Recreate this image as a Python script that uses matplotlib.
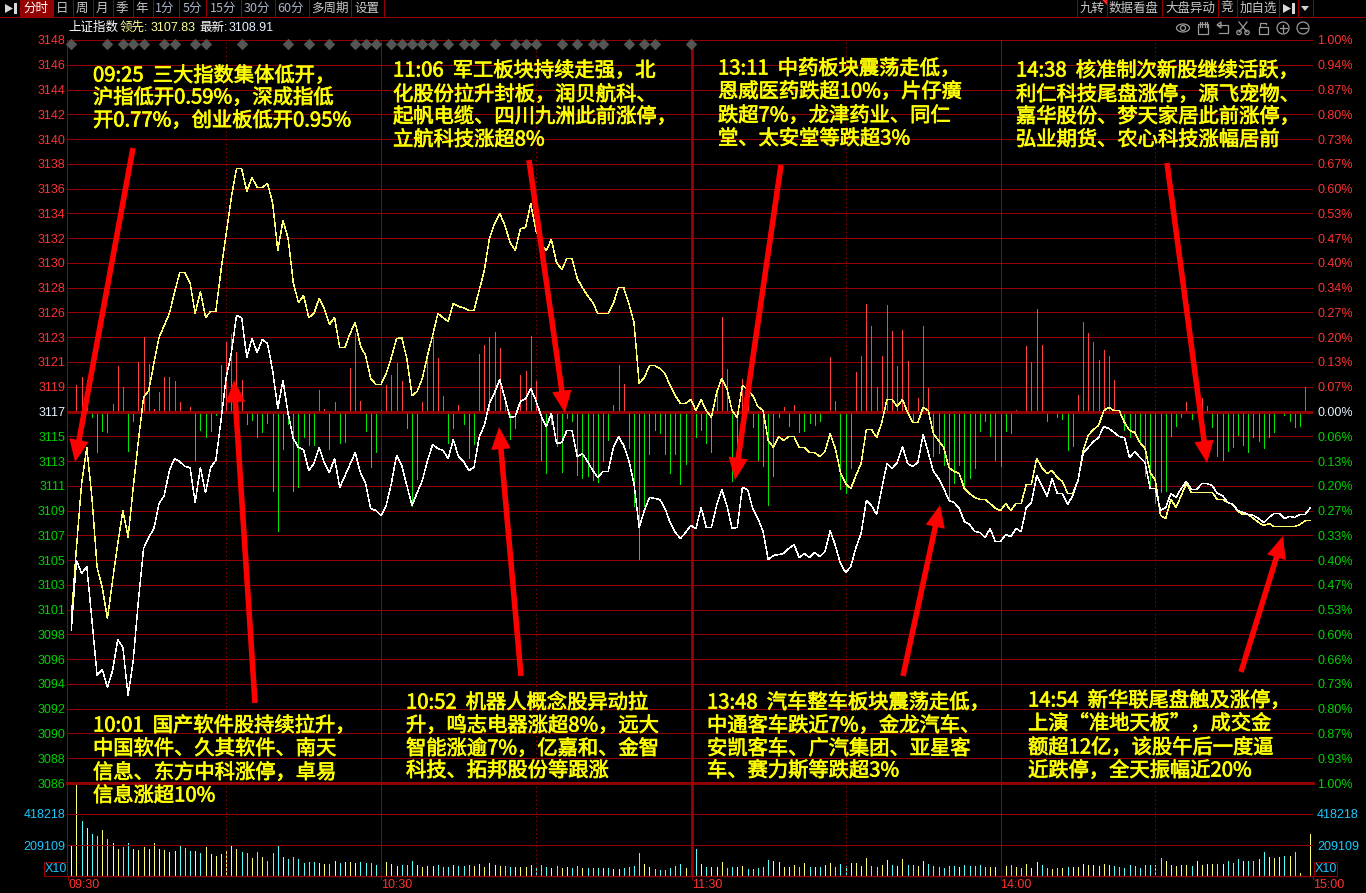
import numpy as np
import matplotlib
matplotlib.use('Agg')
import matplotlib.pyplot as plt
import matplotlib.patheffects as pe
from matplotlib.patches import Polygon, Circle, Ellipse, Rectangle

plt.rcParams['font.family'] = ['Noto Sans CJK SC', 'DejaVu Sans']

# price per minute, 09:30 -> 15:00
white_price = [
    3098.63,3104.50,3103.41,3104.00,3099.50,3094.85,3095.36,3093.85,3095.27,3097.87,
    3097.20,3093.17,3096.11,3101.14,3105.51,3106.43,3107.18,3109.28,3109.95,3112.05,
    3113.06,3112.80,3112.40,3112.30,3109.37,3112.30,3110.20,3112.30,3112.89,3116.24,
    3119.85,3121.90,3125.05,3124.89,3121.53,3123.12,3121.95,3123.04,3122.70,3120.44,
    3117.25,3119.60,3116.83,3114.73,3113.98,3113.81,3112.05,3112.64,3113.98,3112.72,
    3111.88,3113.06,3110.62,3111.60,3112.60,3113.56,3111.88,3110.96,3108.86,3108.69,
    3108.28,3109.11,3110.96,3113.31,3112.47,3110.79,3109.11,3110.20,3111.21,3112.89,
    3114.23,3113.90,3113.73,3113.06,3114.65,3113.22,3112.81,3112.05,3112.30,3114.82,
    3115.83,3117.67,3118.59,3119.68,3118.09,3116.50,3116.58,3117.84,3118.09,3118.93,
    3117.92,3116.66,3115.74,3116.83,3114.32,3114.40,3115.41,3115.41,3113.22,3113.48,
    3112.81,3112.05,3111.46,3111.97,3111.97,3113.98,3114.90,3114.15,3112.89,3110.96,
    3107.27,3108.69,3109.79,3109.70,3109.62,3108.86,3107.69,3106.85,3106.35,3106.85,
    3107.44,3107.18,3108.95,3107.27,3107.27,3109.11,3110.46,3109.11,3107.18,3107.27,
    3110.62,3110.46,3108.86,3108.02,3106.93,3104.58,3104.92,3105.00,3105.09,3105.51,
    3105.84,3104.75,3105.09,3104.75,3105.17,3104.84,3105.26,3107.02,3105.76,3104.25,
    3103.49,3104.00,3105.59,3106.77,3109.53,3109.11,3108.36,3110.54,3112.64,3112.22,
    3112.72,3114.06,3112.64,3112.39,3112.72,3115.07,3113.56,3111.97,3111.38,3110.54,
    3109.53,3109.37,3108.86,3107.77,3107.52,3106.93,3106.85,3106.43,3107.18,3106.09,
    3106.09,3106.68,3106.51,3107.18,3106.93,3108.95,3109.37,3111.63,3110.79,3109.87,
    3111.38,3110.12,3110.12,3109.20,3109.95,3111.21,3113.48,3113.98,3114.48,3114.82,
    3115.74,3115.57,3115.24,3114.90,3114.82,3113.14,3113.64,3113.14,3112.72,3110.54,
    3110.54,3108.69,3108.95,3110.12,3109.79,3110.54,3111.13,3110.46,3110.46,3110.96,
    3110.96,3110.79,3110.12,3109.95,3109.37,3109.20,3108.69,3108.53,3108.36,3108.28,
    3108.02,3107.69,3108.11,3108.44,3108.44,3108.02,3108.19,3108.11,3108.36,3108.36,3108.91]

yellow_price = [
    3099.63,3105.59,3110.96,3113.98,3109.79,3103.91,3102.24,3099.63,3102.82,3105.93,
    3108.69,3106.43,3110.62,3114.57,3118.17,3118.76,3121.03,3123.21,3124.21,3125.22,
    3126.98,3128.66,3128.66,3127.82,3125.22,3127.07,3124.89,3125.39,3125.39,3128.83,
    3131.93,3134.95,3137.39,3137.39,3135.46,3136.63,3135.79,3135.79,3136.13,3134.53,
    3130.51,3133.02,3131.51,3127.82,3126.14,3126.73,3124.89,3125.22,3126.48,3125.64,
    3124.30,3124.89,3122.37,3122.37,3123.54,3124.47,3122.54,3121.70,3119.77,3119.27,
    3119.27,3120.19,3121.53,3123.12,3123.21,3121.45,3118.34,3118.68,3119.77,3121.70,
    3123.38,3125.22,3124.89,3124.55,3126.06,3125.81,3125.72,3125.47,3125.47,3127.15,
    3128.83,3131.51,3132.77,3133.61,3132.60,3131.18,3130.51,3132.35,3132.44,3134.45,
    3132.18,3131.09,3130.51,3131.43,3129.50,3128.91,3129.84,3129.84,3128.16,3127.40,
    3126.73,3126.14,3125.22,3125.22,3125.22,3126.06,3127.40,3127.40,3126.06,3124.47,
    3119.35,3119.85,3120.86,3120.86,3120.61,3120.19,3119.18,3118.34,3117.67,3117.67,
    3118.01,3117.08,3118.01,3117.08,3116.50,3118.59,3119.77,3118.93,3117.08,3116.50,
    3119.18,3118.85,3118.34,3117.42,3117.08,3114.57,3113.98,3114.90,3114.57,3114.90,
    3114.90,3113.98,3113.98,3113.56,3113.56,3113.22,3113.64,3115.15,3113.90,3111.88,
    3110.96,3110.54,3111.63,3112.64,3115.49,3115.49,3114.82,3116.08,3118.01,3118.01,
    3117.42,3118.01,3116.92,3116.08,3116.08,3117.34,3117.08,3115.15,3114.57,3113.98,
    3112.30,3111.97,3111.80,3110.54,3110.12,3109.79,3109.62,3109.62,3109.28,3108.86,
    3108.69,3109.28,3108.69,3109.28,3109.28,3110.88,3110.88,3113.06,3112.30,3111.80,
    3112.05,3111.46,3111.13,3110.12,3110.12,3111.21,3113.73,3114.99,3115.49,3115.83,
    3117.08,3117.34,3117.08,3117.08,3116.08,3115.41,3115.24,3114.40,3113.90,3111.88,
    3111.21,3108.28,3108.02,3109.62,3108.95,3109.95,3110.96,3110.20,3110.20,3110.20,
    3110.20,3110.20,3109.62,3109.62,3109.37,3109.20,3108.61,3108.36,3108.36,3108.02,
    3107.69,3107.44,3107.60,3107.35,3107.35,3107.35,3107.35,3107.35,3107.52,3107.83,3107.83]

# red / green strength bars
strength = [
    0,27,35,32,-5,-40,-19,-20,8,46,
    25,-39,-9,50,75,48,3,20,35,35,
    31,10,1,5,-48,-18,-25,-19,-3,47,
    70,78,60,32,-12,-8,-25,-20,-11,-79,
    -119,-37,-12,-79,-75,-25,-33,-33,22,3,
    -37,10,-31,-30,44,79,11,-19,-55,-40,
    2,27,37,49,31,-16,-94,-67,10,54,
    76,54,16,-31,-16,7,-12,-46,-32,58,
    67,75,80,64,8,-27,-16,37,41,76,
    31,-48,-61,-12,-34,-60,-6,-9,-63,-66,
    -64,-68,-70,-49,-28,7,47,28,-36,-94,
    -147,-94,-42,-18,-21,-42,-61,-42,-72,-52,
    0,-25,-18,-31,-40,21,95,43,-69,-40,
    33,40,-15,-48,-54,-93,-64,-5,5,-14,
    7,-20,-19,-11,-13,-9,1,55,11,-77,
    -81,-56,40,56,108,86,25,56,107,81,
    46,82,51,-10,14,86,24,-44,-41,-53,
    -89,-71,-53,-77,-66,-56,-19,-9,-24,-48,
    -54,-19,-21,2,-1,66,50,103,67,-9,
    -1,-5,-7,-38,-34,17,90,79,70,52,
    62,56,32,0,-18,-25,-19,-29,-64,-76,
    -91,-80,-79,-24,-14,-5,10,-7,0,14,
    6,-15,-44,-48,-39,-35,-23,-33,-40,-25,
    -29,-36,-25,-20,-1,-3,-9,-15,-14,25,0]

# volume read as multiples of vol_unit
vol_unit = 209109 / 31
vol_read = [
    31,92,55,48,42,40,46,37,33,27,
    29,33,27,26,29,27,33,27,26,24,
    25,30,28,25,25,23,29,22,20,22,
    25,31,27,24,23,18,24,19,15,23,
    31,19,17,19,17,13,14,14,13,12,
    12,15,13,14,14,13,14,13,13,11,
    11,14,12,10,11,11,15,11,9,10,
    10,11,9,9,11,10,10,11,10,12,
    9,13,11,10,10,9,9,9,9,11,
    8,11,9,8,10,8,9,8,10,8,
    8,8,8,8,8,7,7,8,9,10,
    23,12,9,7,6,6,8,10,12,8,
    10,27,12,9,9,9,14,8,9,9,
    10,7,7,8,9,16,15,14,9,9,
    11,9,13,9,9,9,11,13,9,12,
    10,13,13,10,18,10,9,11,16,11,
    10,17,11,11,10,15,12,10,9,8,
    10,10,9,11,10,10,11,9,9,9,
    9,10,11,9,8,12,8,14,11,8,
    7,8,8,9,9,9,12,11,11,10,
    12,11,10,9,8,11,10,8,11,11,
    11,18,15,11,10,11,11,10,15,11,
    12,12,12,12,15,13,17,15,15,15,
    17,24,19,18,19,20,20,24,3,0,42]
vol_color = ('wycyccycyy' 'ccyyyyyyyy' 'ycccycyyy' 'y' 'yyyccycycc' 'cyccccccyy'
             'cycyyycccc' 'cyyyccc' 'yyy' 'yccc' 'yccc' 'yy' 'yyyyccyyyy' 'cccycyyccy'
             'cccycyyccc' 'cyycccccc' 'y' 'ycycyyyccy' 'ycccccyyyy' 'ycycycyycc'
             'cyyyyccyyc' 'yycc' 'yycccc' 'ccycccccyy' 'cycycyyycc' 'ycycyyyyyy'
             'yyccccccc' 'c' 'ccyyyyycwy' 'yycyccc' 'ycc' 'ycyyycycycy')

# event markers on top of the chart
marker_minutes = [0,7,10,12,14,18,20,24,26,33,42,46,50,55,57,59,62,64,66,68,70,73,
                  76,78,82,86,88,90,95,98,101,103,108,111,113,120]

center = 3117
left_up = ['3119','3121','3123','3126','3128','3130','3132','3134','3136','3138','3140','3142','3144','3146','3148']
left_down = ['3086','3088','3090','3092','3094','3096','3098','3101','3103','3105','3107','3109','3111','3113','3115']
right_up = ['0.07%','0.13%','0.20%','0.27%','0.34%','0.40%','0.47%','0.53%','0.60%','0.67%','0.73%','0.80%','0.87%','0.94%','1.00%']
right_down = ['1.00%','0.93%','0.87%','0.80%','0.73%','0.66%','0.60%','0.53%','0.47%','0.40%','0.33%','0.27%','0.20%','0.13%','0.06%']
time_ticks = [-0.6, 60, 120.2, 180, 240.5]
time_labels = ['09:30', '10:30', '11:30', '14:00', '15:00']
vol_ticks = [209109, 418218]

# "," below is swapped for the full width comma when drawn
notes = [
    (93, [76, 98, 121], ['09:25  三大指数集体低开,', '沪指低开0.59%,深成指低', '开0.77%,创业板低开0.95%']),
    (393, [71, 95, 117, 140], ['11:06  军工板块持续走强,北', '化股份拉升封板,润贝航科、', '起帆电缆、四川九洲此前涨停,', '立航科技涨超8%']),
    (718, [69, 92, 116, 139], ['13:11  中药板块震荡走低,', '恩威医药跌超10%,片仔癀', '跌超7%,龙津药业、同仁', '堂、太安堂等跌超3%']),
    (1016, [71, 95, 117, 140], ['14:38  核准制次新股继续活跃,', '利仁科技尾盘涨停,源飞宠物、', '嘉华股份、梦天家居此前涨停,', '弘业期货、农心科技涨幅居前']),
    (93, [726, 749, 773, 796], ['10:01  国产软件股持续拉升,', '中国软件、久其软件、南天', '信息、东方中科涨停,卓易', '信息涨超10%']),
    (406, [703, 726, 749, 771], ['10:52  机器人概念股异动拉', '升,鸣志电器涨超8%,远大', '智能涨逾7%,亿嘉和、金智', '科技、拓邦股份等跟涨']),
    (707, [703, 726, 749, 771], ['13:48  汽车整车板块震荡走低,', '中通客车跌近7%,金龙汽车、', '安凯客车、广汽集团、亚星客', '车、赛力斯等跌超3%']),
    (1028, [701, 724, 748, 771], ['14:54  新华联尾盘触及涨停,', '上演“准地天板”,成交金', '额超12亿,该股午后一度逼', '近跌停,全天振幅近20%']),
]

arrows = [
    ((133, 148), (75, 462)), ((255, 703), (234, 380)), ((529, 160), (565, 413)), ((521, 676), (499, 427)),
    ((781, 165), (735, 480)), ((903, 676), (940, 505)), ((1167, 163), (1207, 463)), ((1241, 672), (1283, 536)),
]

assert len(white_price) == 241 and len(yellow_price) == 241
assert len(strength) == 241 and len(vol_read) == 241 and len(vol_color) == 241, len(vol_color)

DARK = '#950000'
RED = '#ff3232'
GREEN = '#00d200'
CYAN = '#19c8ff'
W, H = 1366, 893
XLIM = (-0.83, 240.53)
THIN = 0.72
minutes = np.arange(241)


def box(x0, y0, x1, y1):
    return [x0 / W, 1 - y1 / H, (x1 - x0) / W, (y1 - y0) / H]


def clean(a):
    a.set_facecolor('none')
    for s in a.spines.values():
        s.set_visible(False)


def color_ticks(a, colors):
    for lab, c in zip(a.get_yticklabels(), colors):
        lab.set_color(c)


def vertical_rules(a):
    for m in [XLIM[0] + 0.02, 60, 180, XLIM[1] - 0.02]:
        a.axvline(m, color=DARK, lw=THIN)
    a.axvline(120.2, color=DARK, lw=2.1)
    for m in [30, 90, 150, 210]:
        a.axvline(m, color=DARK, lw=THIN, ls=(0, (1.4, 2.8)))


fig = plt.figure(figsize=(W / 100, H / 100), dpi=100, facecolor='black')

# price panel, left ticks
ax = fig.add_axes(box(67, 40, 1313, 783))
clean(ax)
span = center * 0.01
steps = np.arange(-15, 16) / 15
ax.set_ylim(center - span, center + span)
ax.set_xlim(*XLIM)
ax.set_xticks([])
ax.set_yticks(center + steps * span)
ax.set_yticklabels(left_down + [str(center)] + left_up, family='Liberation Sans', fontsize=9)
color_ticks(ax, [GREEN] * 15 + ['#e6f0ff'] + [RED] * 15)
ax.tick_params(axis='y', length=0, pad=1)
for s in steps:
    ax.axhline(center + s * span, color=DARK, lw=THIN)
vertical_rules(ax)

# percent labels on the right
ax_pct = ax.twinx()
clean(ax_pct)
ax_pct.set_ylim(-1, 1)
ax_pct.set_yticks(steps)
ax_pct.set_yticklabels(right_down + ['0.00%'] + right_up, family='Liberation Sans', fontsize=9)
color_ticks(ax_pct, [GREEN] * 15 + ['#e6f0ff'] + [RED] * 15)
ax_pct.tick_params(axis='y', length=0, pad=3)

# strength bars
ax_bar = ax.twinx()
clean(ax_bar)
ax_bar.set_ylim(-371.5, 371.5)
ax_bar.set_yticks([])
s_arr = np.array(strength)
ax_bar.vlines(minutes[s_arr > 0], 0, s_arr[s_arr > 0], color='#ff4040', lw=THIN, antialiased=False)
ax_bar.vlines(minutes[s_arr < 0], 0, s_arr[s_arr < 0], color='#00e600', lw=THIN, antialiased=False)
ax_bar.axhline(0, color=DARK, lw=2.1)

# price lines and markers
ax_line = ax.twinx()
clean(ax_line)
ax_line.set_ylim(ax.get_ylim())
ax_line.set_yticks([])
ax_line.plot(minutes, yellow_price, color='#ffff70', lw=0.3, antialiased=False)
ax_line.plot(minutes, white_price, color='white', lw=0.3, antialiased=False)
ax_line.scatter(marker_minutes, [center + span * 0.99] * len(marker_minutes), marker='D', s=34,
                color='#555555', linewidths=0, clip_on=False)
ax_line.set_xlim(*XLIM)

# volume panel
ax_vol = fig.add_axes(box(67, 783, 1313, 876))
clean(ax_vol)
ax_vol.set_xlim(*XLIM)
ax_vol.set_ylim(0, 93 * vol_unit)
vol = np.array(vol_read) * vol_unit
colmap = {'w': '#ffffff', 'y': '#ffff70', 'c': '#55ffff'}
ax_vol.vlines(minutes, 0, vol, colors=[colmap[c] for c in vol_color], lw=THIN, antialiased=False)
ax_vol.set_yticks(vol_ticks)
ax_vol.set_yticklabels(['209109', '418218'], color=CYAN, family='Liberation Sans', fontsize=9)
ax_vol.tick_params(axis='y', length=0, pad=1)
for v in vol_ticks:
    ax_vol.axhline(v, color=DARK, lw=THIN)
vertical_rules(ax_vol)
ax_vol.axhline(93 * vol_unit, color=DARK, lw=2.1, clip_on=False)
ax_vol.axhline(0, color=DARK, lw=1.0, clip_on=False)
ax_vol.set_xticks(time_ticks)
ax_vol.set_xticklabels(time_labels, color=RED, family='Liberation Sans', fontsize=9, ha='left')
ax_vol.tick_params(axis='x', length=3, width=THIN, color=DARK, pad=-1)
ax_vol2 = ax_vol.twinx()
clean(ax_vol2)
ax_vol2.set_ylim(ax_vol.get_ylim())
ax_vol2.set_yticks(vol_ticks)
ax_vol2.set_yticklabels(['209109', '418218'], color=CYAN, family='Liberation Sans', fontsize=9)
ax_vol2.tick_params(axis='y', length=0, pad=3)

# overlay in pixel units: toolbar, notes, arrows
ov = fig.add_axes([0, 0, 1, 1])
ov.set_xlim(0, W)
ov.set_ylim(H, 0)
ov.axis('off')
ov.patch.set_alpha(0)

ov.add_patch(Rectangle((20, 0), 33, 17, color=DARK, lw=0))
ov.plot([0, W], [17, 17], color=DARK, lw=THIN)

left_tools = [('分时', 36, '#ffffff'), ('日', 62, '#c8c8c8'), ('周', 82, '#c8c8c8'), ('月', 102, '#c8c8c8'),
              ('季', 122, '#c8c8c8'), ('年', 142, '#c8c8c8'), ('1分', 165, '#a8b4c8'), ('5分', 192, '#a8b4c8'),
              ('15分', 223, '#a8b4c8'), ('30分', 257, '#a8b4c8'), ('60分', 290, '#a8b4c8'), ('多周期', 330, '#c8c8c8'),
              ('设置', 367, '#c8c8c8')]
for lab, x, c in left_tools:
    ov.text(x, 8.5, lab, color=c, fontsize=9, ha='center', va='center')
for x in [20, 53, 73, 93, 113, 133, 153, 179, 206, 241, 275, 309, 351, 384]:
    ov.plot([x, x], [0, 17], color=DARK, lw=THIN)

right_tools = [('九转', 1092), ('数据看盘', 1134), ('大盘异动', 1190), ('竞', 1227), ('加自选', 1258)]
for lab, x in right_tools:
    ov.text(x, 8.5, lab, color='#c8c8c8', fontsize=9, ha='center', va='center')
for x in [1077, 1107, 1162, 1218, 1237, 1279, 1298, 1313]:
    ov.plot([x, x], [0, 17], color=DARK, lw=THIN)
ov.add_patch(Polygon([(1102, 0), (1107, 0), (1107, 5)], color='#ff2020', lw=0))
ov.add_patch(Polygon([(1301, 6), (1309, 6), (1305, 11)], color='#d0d0d0', lw=0))
for x0 in [5, 1283]:
    ov.add_patch(Polygon([(x0, 4), (x0 + 8, 8.5), (x0, 13)], color='#d8d8d8', lw=0))
    ov.add_patch(Rectangle((x0 + 9, 3), 2.5, 11, color='#d8d8d8', lw=0))

# stock name row
row = [('上证指数', 68, '#ffffff'), ('领先:', 120, '#ffff99'), ('3107.83', 151, '#ffff99'),
       ('最新:', 199, '#ffffff'), ('3108.91', 229, '#e6f0ff')]
for lab, x, c in row:
    ov.text(x, 28, lab, color=c, fontsize=9, ha='left', va='center',
            family=['Liberation Sans', 'Noto Sans CJK SC'])

# icons
G = '#9a9a9a'
ov.add_patch(Ellipse((1183, 28), 13, 8, fill=False, ec=G, lw=0.9))
ov.add_patch(Circle((1183, 28), 2.5, fill=False, ec=G, lw=0.9))
ov.add_patch(Rectangle((1198, 24), 10, 10, fill=False, ec=G, lw=0.9))
for dx in [1199.5, 1202, 1204.5, 1207]:
    ov.plot([dx, dx], [22, 27], color=G, lw=0.9)
ov.plot([1218, 1228, 1228, 1219], [25, 25, 33, 33], color=G, lw=0.9)
ov.add_patch(Polygon([(1217, 25), (1221, 22), (1221, 28)], fill=False, ec=G, lw=0.9))
ov.plot([1239, 1247], [22, 32], color=G, lw=0.9)
ov.plot([1247, 1239], [22, 32], color=G, lw=0.9)
ov.add_patch(Circle((1239, 32.5), 2.2, fill=False, ec=G, lw=0.9))
ov.add_patch(Circle((1247, 32.5), 2.2, fill=False, ec=G, lw=0.9))
ov.add_patch(Rectangle((1258.5, 27), 9, 7, fill=False, ec=G, lw=0.9))
ov.plot([1260, 1260, 1266, 1266], [27, 22.5, 22.5, 24], color=G, lw=0.9)
for x in [1283, 1303]:
    ov.add_patch(Circle((x, 28), 6, fill=False, ec=G, lw=0.9))
    ov.plot([x - 3.5, x + 3.5], [28, 28], color=G, lw=0.9)
ov.plot([1283, 1283], [24.5, 31.5], color=G, lw=0.9)

# X10 boxes
for x0, x1 in [(44, 67), (1314, 1337)]:
    ov.add_patch(Rectangle((x0, 862), x1 - x0, 14, fill=False, ec=DARK, lw=THIN))
    ov.text((x0 + x1) / 2, 869.5, 'X10', color=CYAN, fontsize=9, ha='center', va='center',
            family='Liberation Sans')

# annotations
for tail, tip in arrows:
    ov.annotate('', xy=tip, xytext=tail,
                arrowprops=dict(facecolor='#ff0000', edgecolor='#ff0000', width=4, headwidth=14,
                                headlength=16, shrink=0, lw=0))
bold = [pe.withStroke(linewidth=0.5, foreground='#ffff00')]
for x, ys, lines in notes:
    for y, line in zip(ys, lines):
        ov.text(x, y, line.replace(',', '\uff0c'), color='#ffff00', fontsize=14.6, ha='left', va='center',
                path_effects=bold)

fig.savefig('out.png', dpi=100, facecolor='black')
